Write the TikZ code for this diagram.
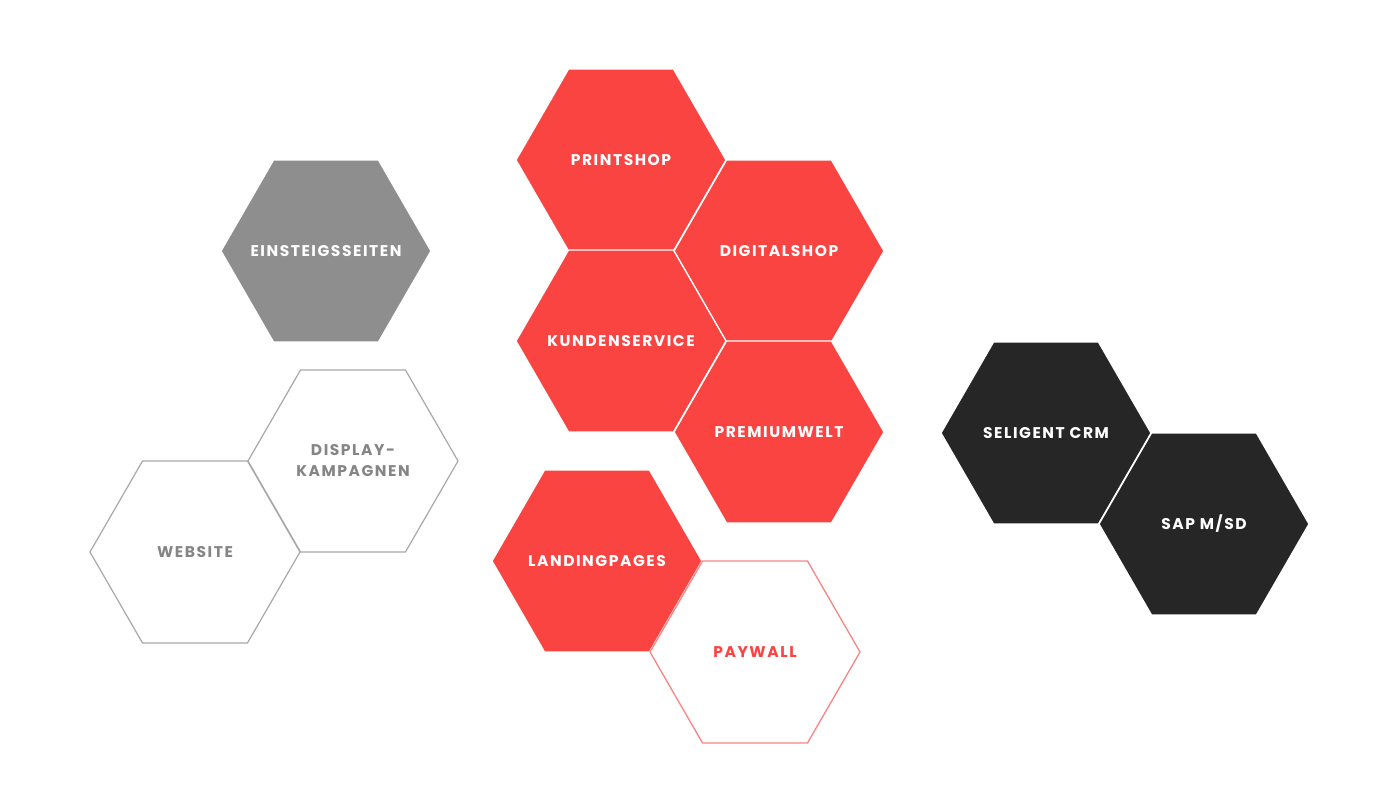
\documentclass[tikz,border=0pt]{standalone}
\usepackage{fontspec}
\setmainfont{Poppins}
\newfontfamily\hexfont[LetterSpace=10]{Poppins}
\usetikzlibrary{shapes.geometric,positioning}

\definecolor{hexred}{HTML}{FA4441}
\definecolor{hexgray}{HTML}{8E8E8E}
\definecolor{hexdark}{HTML}{262626}
\definecolor{hexline}{HTML}{A8A8A8}
\definecolor{hextext}{HTML}{858585}
\definecolor{hexpink}{HTML}{F98582}

\begin{document}
\begin{tikzpicture}[x=1pt,y=-1pt,on grid,
                    hex/.style={regular polygon,regular polygon sides=6,minimum size=210pt,
                                inner sep=0pt,outer sep=0pt},
                    hex text/.style={inner sep=0pt,align=center,
                                     font=\hexfont\bfseries\fontsize{15.5}{21}\selectfont},
                    red hex/.style={hex,fill=hexred,draw=white,line width=1.3pt,
                                    label={[hex text,white]center:#1}},
                    gray hex/.style={hex,fill=hexgray,draw=white,line width=1.3pt,
                                     label={[hex text,white]center:#1}},
                    dark hex/.style={hex,fill=hexdark,draw=white,line width=1.3pt,
                                     label={[hex text,white]center:#1}},
                    open hex/.style={hex,draw=hexline,line width=1.2pt,
                                     label={[hex text,hextext]center:#1}},
                    pink hex/.style={hex,draw=hexpink,line width=1.3pt,
                                     label={[hex text,hexred]center:#1}}]

  \useasboundingbox (0,0) rectangle (1400,810);

  \node[red hex=PRINTSHOP]       (print)    at (621,160)                             {};
  \node[red hex=DIGITALSHOP]     (digital)  [below right=91pt and 158pt of print]    {};
  \node[red hex=KUNDENSERVICE]   (kunden)   [below=181pt of print]                   {};
  \node[red hex=PREMIUMWELT]     (premium)  [below right=91pt and 158pt of kunden]   {};

  \node[gray hex=EINSTEIGSSEITEN] (einstieg) at (326,251)                            {};
  \node[open hex={DISPLAY-\\KAMPAGNEN}] (display) at (353,461)                       {};
  \node[open hex=WEBSITE]        (website)  [below left=91pt and 158pt of display]   {};

  \node[red hex=LANDINGPAGES]    (landing)  at (597,561)                             {};
  \node[pink hex=PAYWALL]        (paywall)  [below right=91pt and 158pt of landing]  {};

  \node[dark hex=SELIGENT CRM]   (seligent) at (1046,433)                            {};
  \node[dark hex=SAP M/SD]       (sap)      [below right=91pt and 158pt of seligent] {};

\end{tikzpicture}
\end{document}
